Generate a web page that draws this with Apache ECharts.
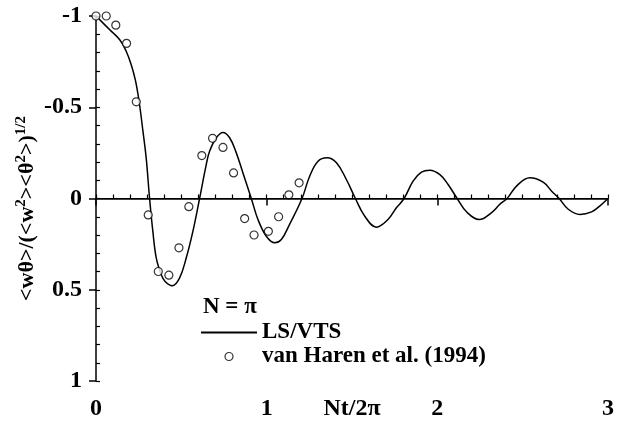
<!DOCTYPE html>
<html>
<head>
<meta charset="utf-8">
<script src="https://cdn.jsdelivr.net/npm/echarts@6/dist/echarts.min.js"></script>
<style>
  html, body { margin: 0; padding: 0; background: #fff; }
  #chart { width: 620px; height: 421px; }
</style>
</head>
<body>
<div id="chart"></div>
<script>
// LS/VTS curve
const lineX = [0, 0.079, 0.138, 0.177, 0.206, 0.232, 0.255, 0.275, 0.294, 0.314,
  0.333, 0.353, 0.382, 0.405, 0.447, 0.49, 0.529, 0.568, 0.607, 0.646,
  0.666, 0.705, 0.744, 0.783, 0.822, 0.861, 0.91, 0.949, 0.998, 1.047,
  1.086, 1.135, 1.207, 1.252, 1.301, 1.354, 1.409, 1.467, 1.52,
  1.575, 1.643, 1.711, 1.76, 1.805, 1.858, 1.907, 1.956, 2.015, 2.063,
  2.116, 2.171, 2.245, 2.318, 2.367, 2.409, 2.464, 2.542, 2.62, 2.67,
  2.714, 2.767, 2.836, 2.904, 2.953, 3.0];
const lineY = [-1, -0.926, -0.871, -0.807, -0.734, -0.643, -0.515, -0.369, -0.223, 0,
  0.179, 0.325, 0.416, 0.455, 0.478, 0.435, 0.325, 0.179, 0, -0.186,
  -0.26, -0.333, -0.362, -0.333, -0.25, -0.14, 0, 0.115, 0.207, 0.243,
  0.225, 0.14, 0, -0.122, -0.204, -0.223, -0.196, -0.104, 0,
  0.097, 0.157, 0.115, 0.051, 0, -0.095, -0.144, -0.155, -0.131, -0.077,
  0, 0.073, 0.115, 0.077, 0.031, 0, -0.068, -0.114, -0.09, -0.04,
  0, 0.059, 0.087, 0.073, 0.04, 0];

// van Haren et al. (1994) observations
const obsX = [0, 0.06, 0.116, 0.179, 0.236, 0.306, 0.365, 0.427, 0.486, 0.544,
  0.62, 0.683, 0.744, 0.806, 0.871, 0.926, 1.01, 1.07, 1.13, 1.19];
const obsY = [-1.0, -1.0, -0.95, -0.85, -0.53, 0.09, 0.4, 0.42, 0.27, 0.045,
  -0.235, -0.33, -0.28, -0.14, 0.11, 0.2, 0.18, 0.1, -0.02, -0.086];

const xTicks = [0, 1, 2, 3];
const yTicks = [-1, -0.5, 0, 0.5, 1];

const font = "'Liberation Serif', 'DejaVu Serif', serif";

const chart = echarts.init(document.getElementById('chart'));

const option = {
  backgroundColor: '#fff',
  animation: false,
  grid: { left: 96, right: 12, top: 16, bottom: 40, outerBoundsMode: 'none', containLabel: false },
  title: {
    text: 'N = π',
    left: 198,
    top: 291,
    textStyle: { fontFamily: font, fontSize: 23, fontWeight: 'bold', color: '#000' }
  },
  legend: {
    left: 195,
    top: 316,
    orient: 'vertical',
    itemWidth: 56,
    itemHeight: 8,
    itemGap: 1,
    textStyle: { fontFamily: font, fontSize: 23, fontWeight: 'bold', color: '#000', lineHeight: 20 },
    data: [
      { name: 'LS/VTS', itemStyle: { color: 'rgba(0,0,0,0)', borderWidth: 0 } },
      { name: 'van Haren et al. (1994)', itemStyle: { color: '#fff', borderColor: '#000', borderWidth: 1.2 } }
    ]
  },
  xAxis: [{
    type: 'value',
    min: xTicks[0],
    max: xTicks[xTicks.length - 1],
    interval: 1,
    name: 'Nt/2π',
    nameLocation: 'middle',
    nameGap: 16,
    nameMoveOverlap: false,
    nameTextStyle: { fontFamily: font, fontSize: 24, fontWeight: 'bold', color: '#000' },
    splitLine: { show: false },
    axisLine: { lineStyle: { color: '#000', width: 1.5 } },
    axisTick: { inside: false, length: 7, lineStyle: { color: '#000', width: 1.5 } },
    axisLabel: { fontFamily: font, fontSize: 24, fontWeight: 'bold', color: '#000', margin: 16 }
  }, {
    type: 'value',
    min: 0, max: 3, interval: 0.1,
    position: 'bottom',
    splitLine: { show: false },
    axisLine: { show: false },
    axisTick: { inside: true, length: 4, lineStyle: { color: '#000', width: 1.2 } },
    axisLabel: { show: false }
  }],
  yAxis: [{
    type: 'value',
    inverse: true,
    min: yTicks[0],
    max: yTicks[yTicks.length - 1],
    interval: 0.5,
    name: '{a|<wθ>/(<w}{s|2}{a|><θ}{s|2}{a|>)}{s|1/2}',
    nameLocation: 'middle',
    nameRotate: 90,
    nameGap: 58,
    nameMoveOverlap: false,
    nameTextStyle: {
      padding: [0, 20, 0, 0],
      rich: {
        a: { fontFamily: font, fontSize: 22, fontWeight: 'bold', color: '#000', lineHeight: 24, verticalAlign: 'bottom' },
        s: { fontFamily: font, fontSize: 15, fontWeight: 'bold', color: '#000', lineHeight: 24, verticalAlign: 'top' }
      }
    },
    splitLine: { show: false },
    axisLine: { lineStyle: { color: '#000', width: 1.5 } },
    axisTick: { inside: false, length: 7, lineStyle: { color: '#000', width: 1.5 } },
    axisLabel: {
      fontFamily: font, fontSize: 24, fontWeight: 'bold', color: '#000', margin: 14,
      formatter: v => String(v)
    }
  }, {
    type: 'value',
    inverse: true,
    min: -1, max: 1, interval: 0.1,
    position: 'left',
    splitLine: { show: false },
    axisLine: { show: false },
    axisTick: { inside: true, length: 4, lineStyle: { color: '#000', width: 1.2 } },
    axisLabel: { show: false }
  }],
  series: [
    {
      name: 'LS/VTS',
      type: 'line',
      xAxisIndex: 0,
      yAxisIndex: 0,
      data: lineX.map((x, i) => [x, lineY[i]]),
      smooth: 0.4,
      symbol: 'none',
      lineStyle: { color: '#000', width: 1.5 },
      itemStyle: { color: '#000' },
      markLine: {
        silent: true,
        symbol: 'none',
        label: { show: false },
        lineStyle: { color: '#000', width: 1.2, type: 'solid' },
        data: [{ yAxis: 0 }]
      },
      z: 3
    },
    {
      name: 'van Haren et al. (1994)',
      type: 'scatter',
      xAxisIndex: 0,
      yAxisIndex: 0,
      data: obsX.map((x, i) => [x, obsY[i]]),
      symbol: 'circle',
      symbolSize: 8,
      itemStyle: { color: '#fff', borderColor: '#000', borderWidth: 1.2 },
      z: 4
    }
  ]
};

chart.setOption(option);
</script>
</body>
</html>
